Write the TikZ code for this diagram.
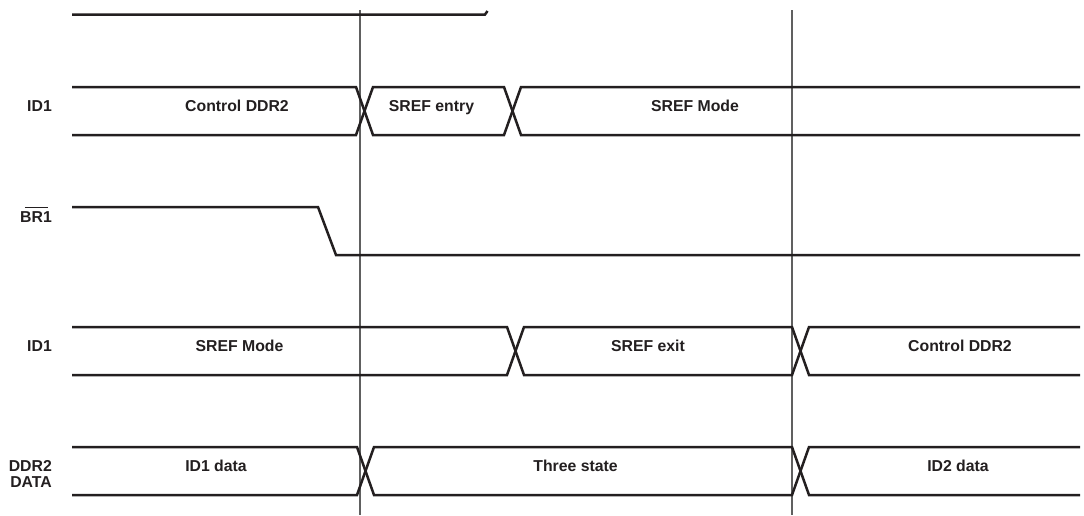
\documentclass[tikz,border=0pt]{standalone}
\usepackage{fontspec}
\setmainfont{Liberation Sans}
\definecolor{sig}{HTML}{231F20}
\definecolor{vline}{HTML}{606060}
\begin{document}
\begin{tikzpicture}[x=1pt,y=-1pt,
  sigline/.style={draw=sig, line width=2.5pt, line join=miter, line cap=butt},
  marker/.style={draw=vline, line width=1.2pt},
  txt/.style={font=\bfseries\fontsize{15.8}{16}\selectfont, text=sig, inner sep=0pt, anchor=base},
  lbl/.style={txt, anchor=base east}]
\useasboundingbox (0,0) rectangle (1084,515);
% time markers
\draw[marker] (360,10) -- (360,515);
\draw[marker] (792,10) -- (792,515);
% top signal
\draw[sigline] (72,14.5) -- (485,14.5) -- (487.5,11);
% row 1 : ID1
\draw[sigline] (72,87) -- (356,87) -- (373,135) -- (504,135) -- (521,87) -- (1080,87);
\draw[sigline] (72,135) -- (356,135) -- (373,87) -- (504,87) -- (521,135) -- (1080,135);
% row 2 : BR1
\draw[sigline] (72,207) -- (318,207) -- (336,255) -- (1080,255);
% row 3 : ID1
\draw[sigline] (72,327) -- (507,327) -- (524,375) -- (792,375) -- (809,327) -- (1080,327);
\draw[sigline] (72,375) -- (507,375) -- (524,327) -- (792,327) -- (809,375) -- (1080,375);
% row 4 : DDR2 DATA
\draw[sigline] (72,447) -- (357,447) -- (374,495) -- (792,495) -- (809,447) -- (1080,447);
\draw[sigline] (72,495) -- (357,495) -- (374,447) -- (792,447) -- (809,495) -- (1080,495);
% labels
\node[lbl] (lid1a) at (52,111) {ID1};
\node[lbl] (lbr) at (52,222.4) {BR1};
\draw[draw=sig, line width=1.1pt] ([shift={(5,-4)}]lbr.north west) -- ([shift={(-4,-4)}]lbr.north east);
\node[lbl] (lid1b) at (52,351) {ID1};
\node[lbl] (lddr) at (52,471.4) {DDR2};
\node[lbl] (ldata) at (52,487.4) {DATA};
% row texts
\node[txt] (t11) at (237,111) {Control DDR2};
\node[txt] (t12) at (431.5,111) {SREF entry};
\node[txt] (t13) at (695,111) {SREF Mode};
\node[txt] (t31) at (239.5,351) {SREF Mode};
\node[txt] (t32) at (648,351) {SREF exit};
\node[txt] (t33) at (960,351) {Control DDR2};
\node[txt] (t41) at (216,471) {ID1 data};
\node[txt] (t42) at (575.5,471) {Three state};
\node[txt] (t43) at (958,471) {ID2 data};
\end{tikzpicture}
\end{document}
